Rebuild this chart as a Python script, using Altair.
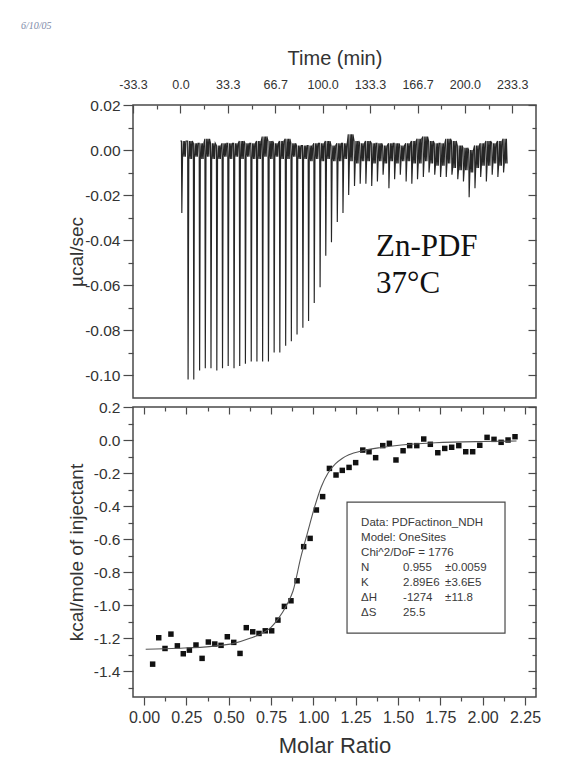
import altair as alt
import pandas as pd

FONT = "Liberation Sans"
INK = "#333333"
FRAME = "#4a4a4a"
MINUS = "\u2212"

# ---------------- top panel: raw thermogram ----------------
inj_time = [0.7, 5.1, 9.1, 13.2, 17.2, 21.2, 25.3, 29.3, 33.3, 37.4,
            41.4, 45.4, 49.5, 53.5, 57.5, 61.6, 65.6, 69.6, 73.7, 77.7,
            81.7, 85.8, 89.8, 93.8, 97.9, 101.9, 105.9, 110.0, 114.0, 118.0,
            122.1, 126.1, 130.1, 134.2, 138.2, 142.2, 146.3, 150.3, 154.3, 158.4,
            162.4, 166.4, 170.5, 174.5, 178.5, 182.6, 186.6, 190.6, 194.7, 198.7,
            202.7, 206.8, 210.8, 214.8, 218.9, 222.9, 226.9]
peak = [-0.028, -0.102, -0.102, -0.098, -0.097, -0.097, -0.098, -0.097, -0.096, -0.097,
        -0.096, -0.095, -0.094, -0.094, -0.094, -0.094, -0.090, -0.090, -0.087, -0.085,
        -0.082, -0.079, -0.076, -0.068, -0.061, -0.047, -0.041, -0.032, -0.028, -0.020,
        -0.016, -0.015, -0.015, -0.016, -0.014, -0.011, -0.017, -0.013, -0.011, -0.014,
        -0.015, -0.013, -0.012, -0.010, -0.011, -0.012, -0.012, -0.011, -0.013, -0.014,
        -0.021, -0.017, -0.012, -0.014, -0.011, -0.012, -0.010]
noise_hi = [0.004, 0.004, 0.003, 0.003, 0.005, 0.003, 0.002, 0.003, 0.003, 0.003,
            0.004, 0.003, 0.003, 0.004, 0.006, 0.004, 0.003, 0.004, 0.005, 0.003,
            0.002, 0.002, 0.002, 0.003, 0.003, 0.004, 0.002, 0.003, 0.003, 0.007,
            0.004, 0.003, 0.004, 0.003, 0.003, 0.002, 0.003, 0.003, 0.002, 0.003,
            0.004, 0.005, 0.006, 0.004, 0.003, 0.003, 0.005, 0.004, 0.002, 0.001,
            0.000, 0.002, 0.003, 0.004, 0.003, 0.004, 0.005]
noise_lo = [-0.003, -0.004, -0.003, -0.004, -0.003, -0.004, -0.004, -0.003, -0.004, -0.003,
            -0.004, -0.003, -0.004, -0.004, -0.003, -0.004, -0.003, -0.004, -0.004, -0.003,
            -0.004, -0.004, -0.005, -0.004, -0.005, -0.004, -0.005, -0.005, -0.004, -0.005,
            -0.006, -0.005, -0.005, -0.006, -0.005, -0.006, -0.005, -0.006, -0.005, -0.005,
            -0.006, -0.006, -0.005, -0.006, -0.007, -0.007, -0.006, -0.008, -0.009, -0.009,
            -0.010, -0.008, -0.007, -0.007, -0.006, -0.007, -0.006]
trace_start = 0.0
trace_end = 229.7

time_ticks = [-33.3, 0.0, 33.3, 66.7, 100.0, 133.3, 166.7, 200.0, 233.3]
time_minor = [-16.7, 16.7, 50.0, 83.3, 116.7, 150.0, 183.3, 216.7]
power_ticks = [0.02, 0.0, -0.02, -0.04, -0.06, -0.08, -0.10]
power_minor = [0.01, -0.01, -0.03, -0.05, -0.07, -0.09]

# ---------------- bottom panel: integrated heats ----------------
molar = [0.051, 0.087, 0.124, 0.159, 0.197, 0.232, 0.268, 0.307, 0.343, 0.380,
         0.418, 0.455, 0.492, 0.530, 0.567, 0.604, 0.642, 0.679, 0.716, 0.754,
         0.791, 0.829, 0.868, 0.904, 0.943, 0.981, 1.018, 1.055, 1.095, 1.134,
         1.171, 1.211, 1.250, 1.292, 1.329, 1.368, 1.410, 1.449, 1.488, 1.530,
         1.569, 1.611, 1.652, 1.691, 1.735, 1.776, 1.817, 1.859, 1.900, 1.941,
         1.983, 2.026, 2.067, 2.109, 2.150, 2.191]
heat = [-1.358, -1.198, -1.263, -1.176, -1.247, -1.295, -1.273, -1.242, -1.323, -1.224,
        -1.236, -1.244, -1.192, -1.226, -1.293, -1.137, -1.162, -1.172, -1.156, -1.156,
        -1.091, -1.008, -0.974, -0.853, -0.646, -0.596, -0.424, -0.343, -0.172, -0.212,
        -0.184, -0.166, -0.137, -0.061, -0.071, -0.107, -0.034, -0.020, -0.121, -0.065,
        -0.034, -0.034, 0.006, -0.026, -0.077, -0.051, -0.044, -0.034, -0.071, -0.071,
        -0.032, 0.016, 0.004, -0.014, 0.000, 0.020]
fit_molar = [0.01, 0.20, 0.40, 0.53, 0.63, 0.70, 0.75, 0.79, 0.845, 0.88, 0.927, 0.967,
             1.008, 1.047, 1.087, 1.13, 1.17, 1.21, 1.29, 1.40, 1.52, 1.72, 2.00, 2.20]
fit_heat = [-1.268, -1.262, -1.250, -1.232, -1.200, -1.170, -1.135, -1.087, -0.995, -0.915,
            -0.707, -0.556, -0.404, -0.283, -0.200, -0.145, -0.112, -0.090, -0.065, -0.045,
            -0.030, -0.017, -0.009, -0.006]

ratio_ticks = [0.0, 0.25, 0.5, 0.75, 1.0, 1.25, 1.5, 1.75, 2.0, 2.25]
ratio_minor = [0.125, 0.375, 0.625, 0.875, 1.125, 1.375, 1.625, 1.875, 2.125]
heat_ticks = [0.2, 0.0, -0.2, -0.4, -0.6, -0.8, -1.0, -1.2, -1.4]
heat_minor = [0.1, -0.1, -0.3, -0.5, -0.7, -0.9, -1.1, -1.3, -1.5]

legend_names = ["Data: PDFactinon_NDH", "Model: OneSites", "Chi^2/DoF = 1776",
                "N", "K", "\u0394H", "\u0394S"]
legend_values = ["", "", "", "0.955", "2.89E6", "-1274", "25.5"]
legend_errors = ["", "", "", "\u00b10.0059", "\u00b13.6E5", "\u00b111.8", ""]

sample_label = "Zn-PDF\n37\u00b0C"
date_note = "6/10/05"

# ---------------- helpers ----------------
W = 403
H_TOP = 293
H_BOT = 290

time_scale = alt.Scale(domain=[-33.33, 250.0], nice=False, zero=False)
power_scale = alt.Scale(domain=[-0.1102, 0.02], nice=False, zero=False)
ratio_scale = alt.Scale(domain=[-0.065, 2.315], nice=False, zero=False)
heat_scale = alt.Scale(domain=[-1.557, 0.2], nice=False, zero=False)


def ax(**kw):
    base = dict(grid=False, domain=False, labelFont=FONT, titleFont=FONT,
                labelColor=INK, titleColor=INK, tickColor=FRAME, tickWidth=1.2,
                titleFontWeight="normal")
    base.update(kw)
    return alt.Axis(**base)


def tick_axis(orient, values, size, inward):
    kw = dict(orient=orient, values=values, labels=False, ticks=True,
              tickSize=size, title=None)
    if inward:
        kw["offset"] = -size
    return ax(**kw)


def fmt(spec):
    return f"replace(format(datum.value, '{spec}'), '{MINUS}', '-')"


# ---------------- top panel: trace built from the read values ----------------
# per injection: drop to the peak, return, then swing between the read noise bounds
SPIKE_DT = 0.3
SWING_DT = [0.8, 1.3, 1.8, 2.3, 2.8, 3.3]
rows = [(trace_start, noise_hi[0])]
for k, t0 in enumerate(inj_time):
    rows.append((t0, noise_hi[k]))
    rows.append((t0 + SPIKE_DT, peak[k]))
    for j, dt in enumerate(SWING_DT):
        if t0 + dt < trace_end:
            rows.append((t0 + dt, noise_lo[k] if j % 2 == 0 else noise_hi[k]))
rows.append((trace_end, noise_lo[-1]))
trace_df = pd.DataFrame(rows, columns=["t", "v"])
trace_df["order"] = range(len(trace_df))

trace = alt.Chart(trace_df).mark_line(color="#262626", strokeWidth=1.15).encode(
    x=alt.X("t:Q", scale=time_scale,
            axis=ax(orient="top", values=time_ticks, ticks=False, labelPadding=14,
                    labelFontSize=12.5, labelFlush=False, labelOverlap=False,
                    labelExpr=fmt(".1f"), title="Time (min)", titleFontSize=20,
                    titlePadding=10)),
    y=alt.Y("v:Q", scale=power_scale,
            axis=ax(orient="left", values=power_ticks, tickSize=10, labelPadding=3,
                    labelFontSize=15.5, labelExpr=fmt(".2f"), labelOverlap=False,
                    title="\u00b5cal/sec", titleFontSize=19, titleX=-47,
                    titleY=H_TOP / 2)),
    order="order:Q",
)

label_df = pd.DataFrame({"t": [137.5], "v": [-0.0471], "txt": [sample_label]})
label = alt.Chart(label_df).mark_text(
    font="Liberation Serif", fontSize=31, color="#111111", align="left",
    baseline="alphabetic", lineBreak="\n", lineHeight=37,
).encode(
    x=alt.X("t:Q", scale=time_scale, axis=tick_axis("top", time_ticks, 8, True)),
    y=alt.Y("v:Q", scale=power_scale, axis=tick_axis("left", power_minor, 5, False)),
    text="txt:N",
)

ticks_df = pd.DataFrame({"t": [trace_start], "v": [0.0]})
ticks_a = alt.Chart(ticks_df).mark_point(opacity=0).encode(
    x=alt.X("t:Q", scale=time_scale, axis=tick_axis("top", time_minor, 4, True)),
    y=alt.Y("v:Q", scale=power_scale, axis=tick_axis("right", power_ticks, 8, True)),
)
ticks_b = alt.Chart(ticks_df).mark_point(opacity=0).encode(
    x=alt.X("t:Q", scale=time_scale, axis=None),
    y=alt.Y("v:Q", scale=power_scale, axis=tick_axis("right", power_minor, 4, True)),
)

date_df = pd.DataFrame({"txt": [date_note]})
date = alt.Chart(date_df).mark_text(
    font="Liberation Serif", fontStyle="italic", fontSize=10, color="#7d8aa8",
    align="left", baseline="top",
).encode(x=alt.value(-112), y=alt.value(-84), text="txt:N")

top = alt.layer(trace, label, ticks_a, ticks_b, date).resolve_axis(
    x="independent", y="independent").properties(width=W, height=H_TOP)

# ---------------- bottom panel ----------------
pts_df = pd.DataFrame({"m": molar, "q": heat})
fit_df = pd.DataFrame({"m": fit_molar, "q": fit_heat})

points = alt.Chart(pts_df).mark_square(size=30, color="#111111", opacity=1).encode(
    x=alt.X("m:Q", scale=ratio_scale,
            axis=ax(orient="bottom", values=ratio_ticks, tickSize=8, labelPadding=4,
                    labelFontSize=16, labelFlush=False, labelOverlap=False,
                    labelExpr=fmt(".2f"), title="Molar Ratio", titleFontSize=22,
                    titlePadding=10)),
    y=alt.Y("q:Q", scale=heat_scale,
            axis=ax(orient="left", values=heat_ticks, tickSize=10, labelPadding=3,
                    labelFontSize=15.5, labelExpr=fmt(".1f"), labelOverlap=False,
                    title="kcal/mole of injectant", titleFontSize=19, titleX=-47,
                    titleY=H_BOT / 2)),
)

fit = alt.Chart(fit_df).mark_line(color="#555555", strokeWidth=1.1,
                                   interpolate="monotone").encode(
    x=alt.X("m:Q", scale=ratio_scale, axis=tick_axis("bottom", ratio_minor, 4, False)),
    y=alt.Y("q:Q", scale=heat_scale, axis=tick_axis("left", heat_minor, 5, False)),
)

box_df = pd.DataFrame({"x0": [1.199], "x1": [2.132], "y0": [-1.170], "y1": [-0.376]})
box = alt.Chart(box_df).mark_rect(filled=False, color=FRAME, strokeWidth=1.2).encode(
    x=alt.X("x0:Q", scale=ratio_scale, axis=tick_axis("top", ratio_ticks, 7, True)),
    x2="x1:Q",
    y=alt.Y("y0:Q", scale=heat_scale, axis=tick_axis("right", heat_ticks, 8, True)),
    y2="y1:Q",
)

# legend text: one row per line, three columns
TEXT_TOP = -0.467
LINE_STEP = 15 / 165
COL_X = [1.282, 1.530, 1.778]
leg_rows = []
for i, (n, v, e) in enumerate(zip(legend_names, legend_values, legend_errors)):
    yy = TEXT_TOP - i * LINE_STEP
    for cx, s in zip(COL_X, (n, v, e)):
        if s:
            leg_rows.append((cx, yy, s))
leg_df = pd.DataFrame(leg_rows, columns=["x", "y", "txt"])

legend_text = alt.Chart(leg_df).mark_text(
    font=FONT, fontSize=11.5, color="#3a3a3a", align="left", baseline="top",
).encode(
    x=alt.X("x:Q", scale=ratio_scale, axis=tick_axis("top", ratio_minor, 4, True)),
    y=alt.Y("y:Q", scale=heat_scale, axis=tick_axis("right", heat_minor, 4, True)),
    text="txt:N",
)

bottom = alt.layer(points, fit, box, legend_text).resolve_axis(
    x="independent", y="independent").properties(width=W, height=H_BOT)

chart = alt.vconcat(top, bottom, spacing=0).properties(
    padding={"left": 20, "top": 20, "right": 10, "bottom": 10},
    background="white",
).configure_view(stroke=FRAME, strokeWidth=1.5)

chart.save("out.html", embed_options={"renderer": "svg", "actions": False})
